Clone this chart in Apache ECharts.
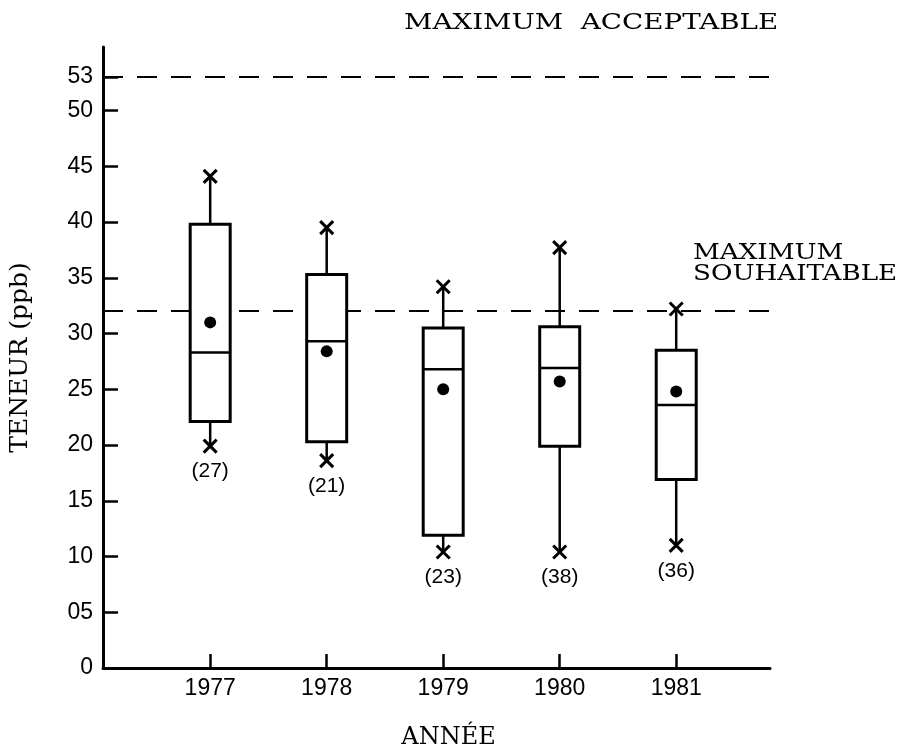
<!DOCTYPE html>
<html>
<head>
<meta charset="utf-8">
<script src="https://cdn.jsdelivr.net/npm/echarts@6/dist/echarts.min.js"></script>
<style>
html,body{margin:0;padding:0;background:#fff;}
#chart{width:909px;height:747px;}
</style>
</head>
<body>
<div id="chart"></div>
<script>
// ---- data ----
const years = [1977, 1978, 1979, 1980, 1981];
const lowX = [19.9, 18.6, 10.4, 10.4, 11.0];      // lower "x" marks
const q1 = [22.1, 20.3, 11.9, 19.9, 16.9];        // bottom of box
const median = [28.3, 29.3, 26.8, 26.9, 23.6];    // line in box
const q3 = [39.8, 35.3, 30.5, 30.6, 28.5];        // top of box
const highX = [44.1, 39.5, 34.2, 37.7, 32.2];     // upper "x" marks
const mean = [31.0, 28.4, 25.0, 25.7, 24.8];      // black dots
const counts = [27, 21, 23, 38, 36];              // (n)
const yTickValues = [0, 5, 10, 15, 20, 25, 30, 35, 40, 45, 50, 53];
const maxAcceptable = 53;
const maxSouhaitable = 32;

const boxData = years.map((y, i) => [y, lowX[i], q1[i], median[i], q3[i], highX[i], mean[i], counts[i]]);

const chart = echarts.init(document.getElementById('chart'), null, {renderer: 'canvas'});

function crossShape(cx, cy, s) {
  return [
    {type: 'line', shape: {x1: cx - s, y1: cy - s, x2: cx + s, y2: cy + s}, style: {stroke: '#000', lineWidth: 3}},
    {type: 'line', shape: {x1: cx + s, y1: cy - s, x2: cx - s, y2: cy + s}, style: {stroke: '#000', lineWidth: 3}}
  ];
}

function renderItem(params, api) {
  const x = api.value(0);
  const pLow = api.coord([x, api.value(1)]);
  const pQ1 = api.coord([x, api.value(2)]);
  const pMed = api.coord([x, api.value(3)]);
  const pQ3 = api.coord([x, api.value(4)]);
  const pHigh = api.coord([x, api.value(5)]);
  const pMean = api.coord([x, api.value(6)]);
  const cx = pLow[0];
  const hw = 20;
  const children = [
    {type: 'line', shape: {x1: cx, y1: pQ3[1], x2: cx, y2: pHigh[1]}, style: {stroke: '#000', lineWidth: 2.5}},
    {type: 'line', shape: {x1: cx, y1: pQ1[1], x2: cx, y2: pLow[1]}, style: {stroke: '#000', lineWidth: 2.5}},
    {type: 'rect', shape: {x: cx - hw, y: pQ3[1], width: hw * 2, height: pQ1[1] - pQ3[1]},
      style: {fill: '#fff', stroke: '#000', lineWidth: 3}},
    {type: 'line', shape: {x1: cx - hw, y1: pMed[1], x2: cx + hw, y2: pMed[1]}, style: {stroke: '#000', lineWidth: 2.5}},
    {type: 'circle', shape: {cx: cx, cy: pMean[1], r: 6}, style: {fill: '#000'}}
  ].concat(crossShape(cx, pHigh[1], 6.5), crossShape(cx, pLow[1], 6.5));
  children.push({
    type: 'text', x: cx, y: pLow[1] + 15,
    style: {text: '(' + api.value(7) + ')', fill: '#000', font: '21px "Liberation Sans"', align: 'center', verticalAlign: 'top'}
  });
  return {type: 'group', children: children};
}

const option = {
  backgroundColor: '#fff',
  animation: false,
  grid: {left: 103, right: 139, top: 47, bottom: 79, outerBoundsMode: 'none', containLabel: false},
  xAxis: {
    type: 'value', min: 1976.08, max: 1981.805,
    name: 'ANNÉE', nameLocation: 'middle', nameGap: 58,
    nameTextStyle: {fontFamily: 'DejaVu Serif', fontSize: 24, color: '#000', padding: [0, 0, 0, 24]},
    axisLine: {show: true, lineStyle: {color: '#000', width: 3}},
    axisTick: {show: true, inside: true, length: 14, customValues: years, lineStyle: {color: '#000', width: 2.5}},
    axisLabel: {customValues: years, formatter: v => String(v), color: '#000', fontFamily: 'Liberation Sans', fontSize: 23, margin: 9},
    splitLine: {show: false}
  },
  yAxis: {
    type: 'value', min: 0, max: 55.7,
    name: 'TENEUR (ppb)', nameLocation: 'middle', nameGap: 70,
    nameTextStyle: {fontFamily: 'DejaVu Serif', fontSize: 25, color: '#000'},
    axisLine: {show: true, lineStyle: {color: '#000', width: 3}},
    axisTick: {show: true, inside: true, length: 15, customValues: yTickValues, lineStyle: {color: '#000', width: 2.5}},
    axisLabel: {customValues: yTickValues, formatter: v => (v === 5 ? '05' : String(v)), color: '#000', fontFamily: 'Liberation Sans', fontSize: 23, margin: 10},
    splitLine: {show: false}
  },
  graphic: [
    {type: 'text', x: 404, y: 12, scaleX: 1.26, z: 100,
      style: {text: 'MAXIMUM  ACCEPTABLE', font: '22px "DejaVu Serif"', fill: '#000', verticalAlign: 'top'}},
    {type: 'text', x: 693, y: 243, scaleX: 1.19, z: 100,
      style: {text: 'MAXIMUM\nSOUHAITABLE', font: '22px "DejaVu Serif"', fill: '#000', verticalAlign: 'top', lineHeight: 21}}
  ],
  series: [
    {
      type: 'line', data: [], z: 1, silent: true,
      markLine: {
        symbol: ['none', 'none'], silent: true, animation: false,
        label: {show: false},
        lineStyle: {color: '#000', type: [20, 14], width: 2},
        data: [{yAxis: maxAcceptable}, {yAxis: maxSouhaitable}]
      }
    },
    {
      type: 'custom', z: 5, renderItem: renderItem, data: boxData,
      encode: {x: 0, y: [1, 2, 3, 4, 5]}
    }
  ]
};
chart.setOption(option);
</script>
</body>
</html>
